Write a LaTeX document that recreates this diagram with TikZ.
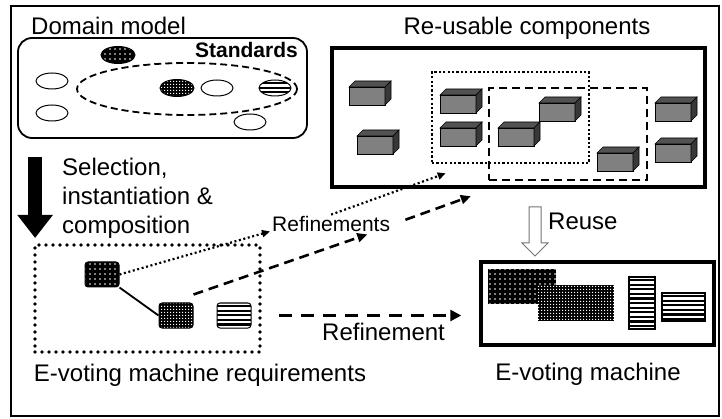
\documentclass[tikz,border=0pt]{standalone}
\usepackage{fontspec}
\setmainfont{Liberation Sans}
\usetikzlibrary{arrows.meta,patterns,shapes.geometric,shapes.arrows}

\pgfdeclarepatternformonly{sparse dots}{\pgfqpoint{-1pt}{-1pt}}{\pgfqpoint{1pt}{1pt}}{\pgfqpoint{5pt}{5pt}}{%
  \pgfpathcircle{\pgfpointorigin}{0.8pt}\pgfusepath{fill}}
\pgfdeclarepatternformonly{checker}{\pgfpointorigin}{\pgfqpoint{2.6pt}{2.6pt}}{\pgfqpoint{2.6pt}{2.6pt}}{%
  \pgfpathrectangle{\pgfpointorigin}{\pgfqpoint{1.2pt}{1.2pt}}\pgfusepath{fill}}

\begin{document}
\begin{tikzpicture}[x=1pt, y=-1pt,
  every node/.style={inner sep=0pt},
  lbl/.style={font=\fontsize{24}{29}\selectfont},
  smalllbl/.style={font=\fontsize{21}{25}\selectfont},
  blob/.style={ellipse, draw, line width=1pt, minimum width=32pt, minimum height=16pt},
  tile/.style={rectangle, draw, line width=1pt, rounded corners=3pt},
  dotfill/.style={preaction={fill=black}, pattern=sparse dots, pattern color=white},
  chkfill/.style={preaction={fill=black}, pattern=checker, pattern color=white},
  stpfill/.style={fill=white, path picture={
    \foreach \k in {1,...,13}{
      \draw[line width=2.2pt] ([yshift=-\k*4.6pt+1.5pt]path picture bounding box.north west)
        -- ([yshift=-\k*4.6pt+1.5pt]path picture bounding box.north east);}}},
  dotline/.style={line width=2.2pt, dash pattern=on 2pt off 2.6pt,
    -{Triangle[length=8pt,width=7pt]}},
  dashline/.style={line width=2.6pt, dash pattern=on 10pt off 6pt,
    -{Triangle[length=10pt,width=9pt]}}]
 \useasboundingbox (0,0) rectangle (722,419);
 \draw[line width=2pt] (11,6) rectangle (719,416);

 % domain model
 \node[lbl, anchor=base west] (domlbl) at (31,35) {Domain model};
 \node[draw, line width=1.8pt, rounded corners=14pt, minimum width=289pt, minimum height=100pt] (dom) at (162.5,88) {};
 \node[font=\fontsize{21}{25}\selectfont\bfseries, anchor=base east] (stdlbl) at (298,58) {Standards};
 \node[ellipse, draw, line width=1.8pt, dash pattern=on 7pt off 4pt, minimum width=220pt, minimum height=52pt] (std) at (187,89) {};
 \node[blob, dotfill, minimum width=34pt, minimum height=17pt] (e1) at (118,55) {};
 \node[blob] (e2) at (52,81) {};
 \node[blob] (e3) at (52,113) {};
 \node[blob, chkfill, minimum width=34pt, minimum height=17pt] (e4) at (177,88) {};
 \node[blob] (e5) at (217,88) {};
 \node[blob, stpfill] (e6) at (275,88) {};
 \node[blob] (e7) at (250,122) {};

 % re-usable components
 \node[lbl, anchor=base] (complbl) at (527,35) {Re-usable components};
 \node[draw, line width=3.5pt, minimum width=373pt, minimum height=139pt] (comp) at (518.5,117.5) {};
 \foreach \bx/\by in {349/87, 357/136, 440/95, 440/128, 498/128, 539/103, 597/153, 655/103, 655/144}{
   \filldraw[fill=black!50, line width=.6pt] (\bx,\by) rectangle ++(36,18);
   \filldraw[fill=black!68, line width=.6pt] (\bx,\by) -- ++(6,-6) -- ++(36,0) -- ++(-6,6) -- cycle;
   \filldraw[fill=black!78, line width=.6pt] (\bx+36,\by) -- ++(6,-6) -- ++(0,18) -- ++(-6,6) -- cycle;
 }
 \node[draw, line width=2.6pt, dash pattern=on 2.2pt off 2.2pt, minimum width=157pt, minimum height=91pt] (dotr) at (510.5,117.5) {};
 \node[draw, line width=2.4pt, dash pattern=on 8pt off 5pt, minimum width=158pt, minimum height=92pt] (dashr) at (568,134) {};

 % selection
 \draw[line width=14pt, -{Triangle[length=23pt,width=34pt]}, shorten <=18pt, shorten >=7pt]
   ([xshift=18pt]dom.south west) -- ([xshift=18pt]dom.south west |- 0,245);
 \node[lbl, align=left, anchor=north west] (sellbl) at (62,157.5) {Selection,\\instantiation \&\\composition};

 % requirements
 \node[draw, line width=3.6pt, line cap=round, dash pattern=on 0pt off 7pt, minimum width=225pt, minimum height=107pt] (req) at (147.5,298.5) {};
 \node[tile, dotfill, minimum width=34pt, minimum height=25pt] (blk) at (102,274.5) {};
 \node[tile, chkfill, minimum width=34pt, minimum height=25pt] (chk) at (176,315.5) {};
 \node[tile, stpfill, minimum width=34pt, minimum height=25pt] (stp) at (234,315.5) {};
 \draw[line width=1.8pt] (blk.south east) -- (chk.west);
 \node[lbl, anchor=base] (reqlbl) at (200,381) {E-voting machine requirements};

 % refinements
 \node[smalllbl, anchor=base west, inner sep=2pt] (refs) at (270,232) {Refinements};
 \draw[dotline] (blk.east) -- ([yshift=3pt]refs.south west);
 \draw[dotline] (refs.north) -- ([xshift=15pt,yshift=-9pt]dotr.south west);
 \draw[dashline] ([yshift=8pt]chk.north east) -- ([xshift=-25pt]refs.south east);
 \draw[dashline, shorten <=14pt] (refs.east) -- ([xshift=-17pt,yshift=-15pt]dashr.south west);

 % e-voting machine
 \node[draw, line width=3.5pt, minimum width=233pt, minimum height=83pt] (evm) at (597.5,303.5) {};
 \node[rectangle, dotfill, minimum width=68pt, minimum height=35pt] (evblk) at (522,286.5) {};
 \node[rectangle, chkfill, minimum width=76pt, minimum height=36pt] (evchk) at (576,303) {};
 \node[rectangle, draw, line width=1.5pt, stpfill, minimum width=26pt, minimum height=52pt] (evstp1) at (642,303) {};
 \node[rectangle, draw, line width=1.5pt, stpfill, minimum width=43pt, minimum height=28pt] (evstp2) at (683.5,307) {};
 \node[lbl, anchor=base] (evmlbl) at (588,380) {E-voting machine};

 \draw[line width=3.5pt, dash pattern=on 13pt off 9pt, -{Triangle[length=11pt,width=11pt]}, shorten <=17pt, shorten >=18pt]
   (req.east |- stp) -- (evm.west |- stp);
 \node[lbl, anchor=base west] (reflbl) at (322,340) {Refinement};

 % reuse
 \node[single arrow, draw=black!55, line width=1pt, shape border rotate=270, inner sep=5.5pt,
   minimum height=49pt, single arrow head extend=7pt] (reusearr) at (535,228.5) {};
 \node[lbl, anchor=base west] (reuselbl) at (548,230) {Reuse};
\end{tikzpicture}
\end{document}
